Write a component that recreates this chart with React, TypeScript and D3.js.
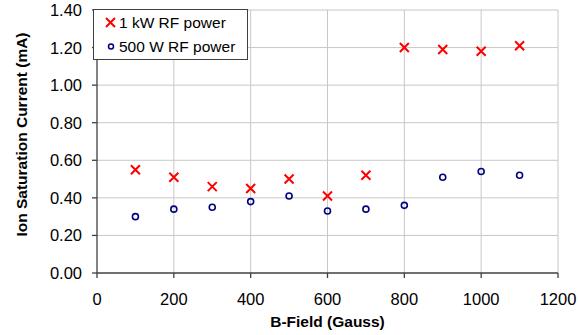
import React from "react";
import * as d3 from "d3";

const bField = [100, 200, 300, 400, 500, 600, 700, 800, 900, 1000, 1100];
const current1kW = [0.55, 0.51, 0.46, 0.45, 0.5, 0.41, 0.52, 1.2, 1.19, 1.18, 1.21];
const current500W = [0.3, 0.34, 0.35, 0.38, 0.41, 0.33, 0.34, 0.36, 0.51, 0.54, 0.52];
const xTicks = [0, 200, 400, 600, 800, 1000, 1200];
const yTicks = [0, 0.2, 0.4, 0.6, 0.8, 1.0, 1.2, 1.4];
const seriesNames = ["1 kW RF power", "500 W RF power"];

const W = 578;
const H = 335;
const left = 97;
const right = 558;
const top = 10;
const bottom = 273;
const font = "Liberation Sans, Arial, sans-serif";

export default function App() {
  const x = d3.scaleLinear().domain([0, 1200]).range([left, right]);
  const y = d3.scaleLinear().domain([0, 1.4]).range([bottom, top]);
  const cross = (cx: number, cy: number, k: number) => {
    const s = 4.5;
    return (
      <path
        key={k}
        d={`M${cx - s},${cy - s}L${cx + s},${cy + s}M${cx - s},${cy + s}L${cx + s},${cy - s}`}
        stroke="#ff0000"
        strokeWidth={2}
        fill="none"
      />
    );
  };
  return (
    <svg
      width={W}
      height={H}
      style={{ position: "absolute", left: 0, top: 0, background: "#fff" }}
      fontFamily={font}
    >
      {/* gridlines */}
      {xTicks.slice(1).map((t) => (
        <line key={"gx" + t} x1={x(t)} x2={x(t)} y1={top} y2={bottom} stroke="#c8c8c8" strokeWidth={1} />
      ))}
      {yTicks.slice(1).map((t) => (
        <line key={"gy" + t} x1={left} x2={right} y1={y(t)} y2={y(t)} stroke="#c8c8c8" strokeWidth={1} />
      ))}
      {/* axes */}
      <line x1={left} x2={left} y1={top} y2={bottom} stroke="#404040" strokeWidth={1.3} />
      <line x1={left} x2={right} y1={bottom} y2={bottom} stroke="#404040" strokeWidth={1.3} />
      {yTicks.map((t) => (
        <g key={"yt" + t}>
          <line x1={left - 5} x2={left} y1={y(t)} y2={y(t)} stroke="#404040" strokeWidth={1.3} />
          <text x={82} y={y(t)} dy="0.36em" textAnchor="end" fontSize={16.5} fill="#000">
            {t.toFixed(2)}
          </text>
        </g>
      ))}
      {xTicks.map((t) => (
        <g key={"xt" + t}>
          <line x1={x(t)} x2={x(t)} y1={bottom} y2={bottom + 5} stroke="#404040" strokeWidth={1.3} />
          <text x={x(t)} y={305} textAnchor="middle" fontSize={16.5} fill="#000">
            {t}
          </text>
        </g>
      ))}
      {/* axis titles */}
      <text x={(left + right) / 2} y={326.5} textAnchor="middle" fontSize={15.5} fontWeight="bold">
        B-Field (Gauss)
      </text>
      <text
        transform={`translate(27,${(top + bottom) / 2 - 7}) rotate(-90)`}
        textAnchor="middle"
        fontSize={15.5}
        fontWeight="bold"
      >
        Ion Saturation Current (mA)
      </text>
      {/* series */}
      {bField.map((b, i) => cross(x(b), y(current1kW[i]), i))}
      {bField.map((b, i) => (
        <circle key={"c" + i} cx={x(b)} cy={y(current500W[i])} r={3} fill="none" stroke="#000080" strokeWidth={1.6} />
      ))}
      {/* legend */}
      <rect x={93.5} y={9.5} width={154} height={50} fill="#fff" stroke="#404040" strokeWidth={1} />
      {cross(110.5, 22.5, 99)}
      <text x={119} y={22.5} dy="0.36em" fontSize={15.5}>
        {seriesNames[0]}
      </text>
      <circle cx={111} cy={46.5} r={2.5} fill="none" stroke="#000080" strokeWidth={1.5} />
      <text x={119} y={46.5} dy="0.36em" fontSize={15.5}>
        {seriesNames[1]}
      </text>
    </svg>
  );
}
